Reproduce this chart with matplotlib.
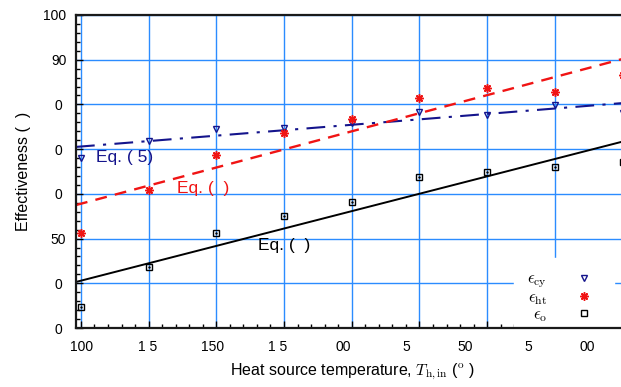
import matplotlib
matplotlib.use("Agg")
import matplotlib.pyplot as plt
import matplotlib.transforms as mtransforms
import numpy as np

plt.rcParams['font.family'] = ['Liberation Sans', 'DejaVu Sans']
plt.rcParams['mathtext.fontset'] = 'cm'

# data
temps = [100, 125, 150, 175, 200, 225, 250, 275, 300]
eff_cy = [68.0, 71.8, 74.5, 74.8, 75.8, 78.4, 77.6, 79.8, 78.1]
eff_ht = [51.3, 60.9, 68.7, 73.7, 76.7, 81.5, 83.7, 82.8, 86.6]
eff_o = [34.8, 43.6, 51.2, 55.0, 58.2, 63.8, 64.9, 66.1, 67.2]

# fitted lines (end values)
line_x = [98.2, 302]
eq5_y = [70.5, 80.4]
eqht_y = [57.5, 90.5]
eqo_y = [40.3, 72.0]

# tick labels as they appear (some glyphs missing in the original)
xtick_text = ["100", "1 5", "150", "1 5", "00", "5", "50", "5", "00"]
xtick_pos = [100.3, 124.6, 148.6, 172.6, 196.8, 220.1, 241.8, 265.1, 287.1]
yticks = [30, 40, 50, 60, 70, 80, 90, 100]
ytick_text = ["0 ", "0 ", "50", "0 ", "0 ", "0 ", "90", "100"]

navy = '#14148c'
red = '#f01414'
grid_blue = '#2b8cff'

fig = plt.figure(figsize=(6.21, 3.87), dpi=100)
ax = fig.add_axes([76/621, 59/387, 552/621, 313/387])

ax.set_xlim(98.2, 302)
ax.set_ylim(30, 100)

ax.set_xticks(temps)
ax.set_xticklabels([])
ax.set_xticks(np.arange(100, 301, 5), minor=True)
ax.set_yticks(yticks)
ax.set_yticklabels(ytick_text)
ax.set_yticks(np.arange(30, 101, 2), minor=True)
ax.tick_params(which='both', direction='in', top=False, right=True, width=1.0)
ax.tick_params(which='major', length=5, labelsize=10, pad=7)
ax.tick_params(which='minor', length=3)
ax.grid(True, which='major', color=grid_blue, linewidth=1.0)
ax.set_axisbelow(True)
for s in ax.spines.values():
    s.set_linewidth(1.6)
    s.set_color('#1a1a1a')

# x tick labels placed where they sit in the original
trans = mtransforms.blended_transform_factory(ax.transData, ax.transAxes)
for xp, t in zip(xtick_pos, xtick_text):
    ax.text(xp, -0.06, t, transform=trans, ha='center', va='center', fontsize=10)

# fitted lines
ax.plot(line_x, eq5_y, color=navy, lw=1.5, dashes=[9, 4, 1.5, 4])
ax.plot(line_x, eqht_y, color=red, lw=1.7, dashes=[5, 3.5])
ax.plot(line_x, eqo_y, color='black', lw=1.4)

# measured points
h_cy, = ax.plot(temps, eff_cy, linestyle='none', marker='v', ms=5,
                mfc='none', mec=navy, mew=1.0, label=r'$\epsilon_{\rm cy}$')
h_ht, = ax.plot(temps, eff_ht, linestyle='none', marker=(8, 2, 0), ms=6,
                color=red, mew=1.1, label=r'$\epsilon_{\rm ht}$')
h_o, = ax.plot(temps, eff_o, linestyle='none', marker='s', ms=5,
               mfc='none', mec='black', mew=1.0, label=r'$\epsilon_{\rm o}$')
ax.plot(temps, eff_o, linestyle='none', marker='.', ms=1.5, color='black')

ax.text(105.6, 68.2, 'Eq. ( 5)', color=navy, fontsize=12.5, va='center')
ax.text(135.4, 61.3, 'Eq. (  )', color=red, fontsize=12.5, va='center')
ax.text(165.5, 48.5, 'Eq. (  )', color='black', fontsize=12.5, va='center')

leg = ax.legend(handles=[h_cy, h_ht, h_o], loc='lower right',
                bbox_to_anchor=(0.98, -0.04), markerfirst=False, fontsize=12,
                frameon=True, fancybox=False, framealpha=1, facecolor='white',
                edgecolor='white', borderaxespad=0.2, borderpad=0.8,
                handletextpad=1.2, labelspacing=0.0)
leg.set_zorder(2.4)

ax.set_xlabel(r'Heat source temperature, $T_{\rm h,in}$ ($^{\rm o}$ )',
              fontsize=11.5, labelpad=17)
ax.set_ylabel('Effectiveness (  )', fontsize=11.5, labelpad=9)

fig.savefig('out.png', dpi=100)
